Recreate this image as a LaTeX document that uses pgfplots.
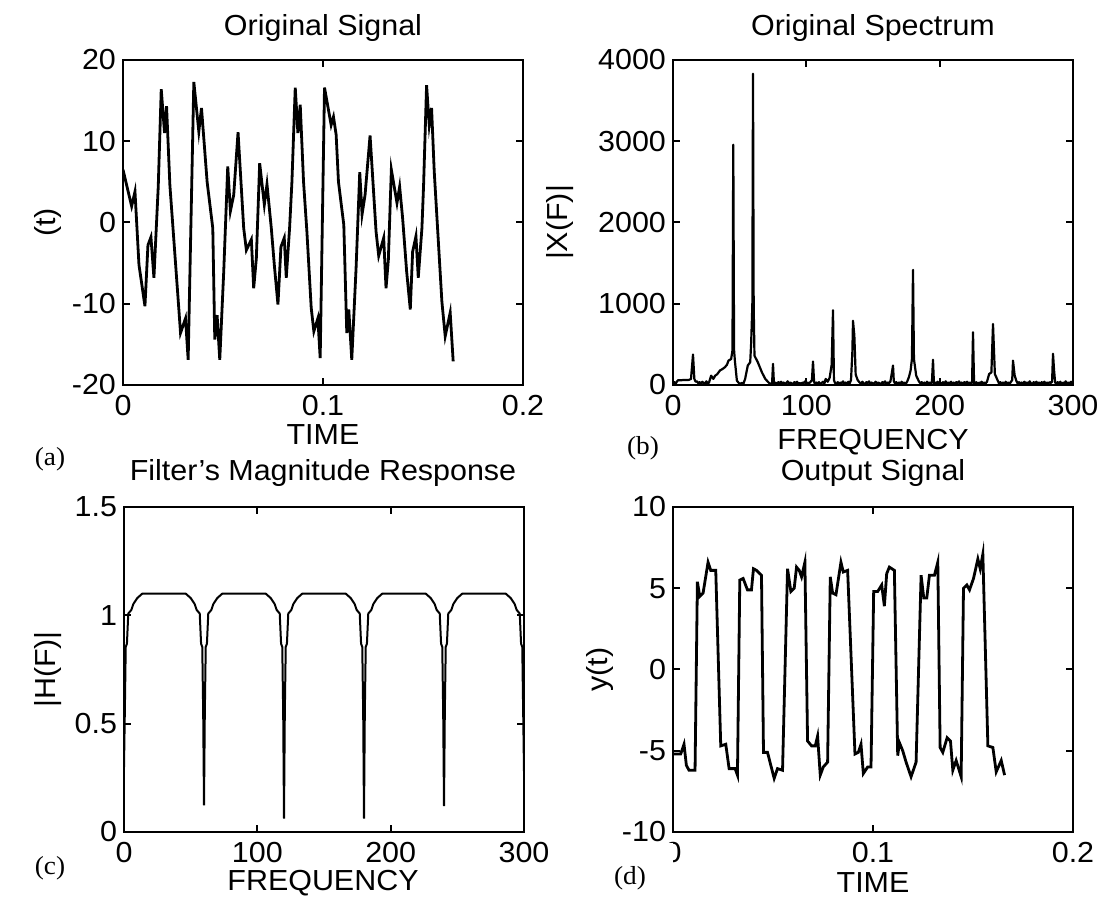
\documentclass[border=0pt]{standalone}
\usepackage{pgfplots}
\pgfplotsset{compat=1.18}
\usepackage{fontspec}
\setmainfont{Liberation Sans}[FakeStretch=1.05]
\newfontfamily\timesf{Liberation Serif}[FakeStretch=1.05]
\newcommand{\lf}{\fontsize{14.5}{14.5}\selectfont}
\newcommand{\pfont}{\timesf\fontsize{13}{13}\selectfont}
\pgfplotsset{
  panel/.style={
    scale only axis, width=200pt, height=162.5pt, anchor=south west,
    axis line style={line width=1.3pt},
    every tick/.style={black, line width=1pt},
    major tick length=3.5pt,
    tick align=inside,
    ticklabel style={font=\lf},
    xticklabel style={yshift=-1.5pt},
    /pgf/number format/assume math mode=true,
    scaled ticks=false,
  },
}
\begin{document}
\begin{tikzpicture}
\path[use as bounding box] (0,0) rectangle (550.5pt,448.5pt);
% ---------- (a) ----------
\begin{axis}[panel, at={(61.5pt,256pt)},
  xmin=0, xmax=0.2, ymin=-20, ymax=20,
  xtick={0,0.1,0.2}, xticklabels={0,0.1,0.2},
  ytick={-20,-10,0,10,20}, yticklabels={-20,-10,0,10,20}]
\addplot[black, line width=1.4pt] coordinates {
(0,6.5)(0.00432,2.0)(0.00599,3.8)(0.00798,-5.2)(0.01097,-10.3)(0.01247,-2.8)(0.01397,-1.8)(0.01546,-6.8)(0.01762,4.4)(0.01912,16.4)(0.02078,11.0)(0.02178,14.3)(0.02344,4.6)(0.02793,-10.7)(0.02876,-13.6)(0.03126,-11.8)(0.03258,-16.9)(0.03541,17.3)(0.03791,11.2)(0.03924,14.1)(0.04206,5.0)(0.04489,-0.7)(0.04589,-14.4)(0.04705,-11.4)(0.04838,-16.9)(0.05037,-6.0)(0.05237,6.9)(0.05370,1.4)(0.05536,3.4)(0.05752,11.1)(0.06035,-0.7)(0.06168,-3.4)(0.06417,-2.1)(0.06534,-8.1)(0.06667,-4.4)(0.06833,7.3)(0.07066,2.2)(0.07199,4.7)(0.07415,-0.7)(0.07565,-5.2)(0.07747,-10.1)(0.07897,-3.0)(0.08063,-1.9)(0.08163,-6.8)(0.08329,-0.7)(0.08446,5.0)(0.08612,16.6)(0.08745,11.0)(0.08861,14.5)(0.09027,5.0)(0.09194,-1.1)(0.09410,-10.5)(0.09543,-13.4)(0.09743,-11.8)(0.09859,-16.7)(0.10075,16.6)(0.10407,12.0)(0.10524,13.0)(0.10657,10.8)(0.10773,5.0)(0.11040,-0.3)(0.11189,-13.6)(0.11289,-10.7)(0.11438,-16.9)(0.11654,-5.6)(0.11837,6.2)(0.11953,1.0)(0.12103,3.4)(0.12353,10.7)(0.12652,-1.1)(0.12785,-4.1)(0.13034,-1.9)(0.13151,-8.1)(0.13267,-4.6)(0.13417,6.5)(0.13699,2.4)(0.13832,4.4)(0.13982,0.5)(0.14181,-6.0)(0.14364,-10.7)(0.14481,-3.6)(0.14647,-1.7)(0.14763,-6.8)(0.14946,-0.7)(0.15029,4.6)(0.15179,16.9)(0.15312,12.0)(0.15428,14.1)(0.15561,6.3)(0.15943,-9.7)(0.16110,-14.0)(0.16359,-11.1)(0.16509,-17.1)
};
\end{axis}
% ---------- (b) ----------
\begin{axis}[panel, at={(336.5pt,256pt)},
  xmin=0, xmax=300, ymin=0, ymax=4000,
  xtick={0,100,200,300}, xticklabels={0,100,200,300},
  ytick={0,1000,2000,3000,4000}, yticklabels={0,1000,2000,3000,4000}]
\addplot[black, line width=1.1pt, line join=round] coordinates {
(0,20)(1,35)(2,15)(3,45)(4,60)(6,58)(8,62)(10,60)(12,63)(13.5,75)(15,375)(16,75)(17,40)(18,45)(19,20)(20,35)(21,10)(22,40)(23,25)(24,15)(25,45)(26,20)(27,30)(28.6,115)(30.3,75)(31.6,115)(33,130)(35.3,180)(37,195)(39,220)(40.5,250)(41.6,300)(43.6,320)(44.6,425)(45.2,2957)(45.8,430)(46.4,300)(47.9,55)(49,30)(50.4,12)(51.5,25)(52.9,20)(54.1,75)(56.1,240)(57.9,280)(58.6,510)(59.5,980)(60,3830)(60.5,980)(61.1,360)(63.6,280)(66.7,155)(69.2,75)(71.7,30)(73,15)(74.3,20)(75,260)(75.7,15)(77,30)(78,10)(79,35)(80,20)(81,40)(82,15)(83,30)(84,10)(85,25)(86,45)(87,15)(88,30)(89,20)(90,10)(91,35)(92,20)(93,40)(94,15)(95,25)(96,10)(97,30)(98,20)(99,45)(100,15)(101,30)(102,20)(103,35)(104.2,60)(105,290)(105.8,40)(106.5,10)(107.5,30)(108.5,15)(109.5,35)(110.5,10)(111.5,25)(112.5,40)(113.5,15)(114.5,75)(116,40)(117.5,90)(119,250)(120,920)(120.7,60)(121.5,25)(122.5,10)(123.5,35)(124.5,15)(125.5,30)(126.5,20)(127.5,45)(128.5,15)(129.5,30)(130.5,10)(131.5,40)(132.5,20)(133.5,60)(134.5,400)(135,790)(136,610)(137,130)(138.5,60)(140,30)(141,15)(142,40)(143,20)(144,10)(145,35)(146,20)(147,45)(148,15)(149,30)(150,10)(151,25)(152,40)(153,15)(154,30)(155,20)(156,10)(157,35)(158,20)(159,45)(160,15)(161,30)(162,25)(163,40)(163.8,115)(165,240)(165.6,50)(166.5,20)(167.5,35)(168.5,10)(169.5,30)(170.5,15)(171.5,40)(172.5,20)(173.5,30)(174.5,10)(175.7,45)(177,100)(178.2,180)(179.2,320)(180,1417)(180.7,320)(182.4,115)(184.4,45)(185.5,20)(186.5,35)(187.5,15)(188.5,30)(189.5,10)(190.5,40)(191.5,20)(192.5,30)(193.5,15)(194.2,40)(195,310)(195.7,15)(196.5,30)(197.5,20)(198.5,40)(199.5,15)(200.5,30)(201.5,10)(202.5,35)(203.5,20)(204.5,45)(205.5,15)(206.5,30)(207.5,20)(208.5,40)(209.5,10)(210.5,30)(211.5,15)(212.5,35)(213.5,20)(214.5,45)(215.5,15)(216.5,30)(217.5,10)(218.5,35)(219.5,20)(220.5,40)(221.5,15)(222.5,30)(223.5,20)(224.3,30)(225,650)(225.8,20)(226.7,15)(227.5,35)(228.5,10)(229.5,30)(230.5,20)(231.5,40)(232.5,15)(233.5,30)(234.5,20)(235.5,40)(237.1,135)(238.8,155)(240,750)(241.4,135)(243.5,55)(244.5,20)(245.5,35)(246.5,15)(247.5,30)(248.5,10)(249.5,40)(250.5,20)(251.5,30)(252.5,15)(253.5,40)(254.4,60)(255,300)(256.2,120)(257.5,50)(258.5,20)(259.5,35)(260.5,15)(261.5,30)(262.5,10)(263.5,40)(264.5,20)(265.5,30)(266.5,15)(267.5,45)(268.5,20)(269.5,10)(270.5,35)(271.5,20)(272.5,40)(273.5,15)(274.5,30)(275.5,10)(276.5,35)(277.5,20)(278.5,40)(279.5,15)(280.5,30)(281.5,20)(282.5,35)(283.5,25)(284.3,40)(285,385)(285.8,180)(286.6,30)(287.5,15)(288.5,35)(289.5,20)(290.5,40)(291.5,10)(292.5,30)(293.5,20)(294.5,45)(295.5,15)(296.5,30)(297.5,20)(298.5,40)(299.5,15)(300,30)
};
\end{axis}
% ---------- (c) ----------
\begin{axis}[panel, at={(62pt,32.5pt)},
  xmin=0, xmax=300, ymin=0, ymax=1.5,
  xtick={0,100,200,300}, xticklabels={0,100,200,300},
  ytick={0,0.5,1,1.5}, yticklabels={0,0.5,1,1.5}]
\addplot[black, line width=1.0pt] coordinates {
(0,0.30)(0.6,0.546)(1.3,0.854)(2.2,0.869)(3.2,1.008)(5.5,1.025)(7,1.052)(10,1.080)(13.7,1.100)
(46.3,1.100)(50,1.080)(53,1.052)(54.5,1.025)(56.8,1.008)(57.8,0.869)(58.7,0.854)(59.4,0.546)(60,0.123)(60.6,0.546)(61.3,0.854)(62.2,0.869)(63.2,1.008)(65.5,1.025)(67,1.052)(70,1.080)(73.7,1.100)
(106.3,1.100)(110,1.080)(113,1.052)(114.5,1.025)(116.8,1.008)(117.8,0.869)(118.7,0.854)(119.4,0.546)(120,0.062)(120.6,0.546)(121.3,0.854)(122.2,0.869)(123.2,1.008)(125.5,1.025)(127,1.052)(130,1.080)(133.7,1.100)
(166.3,1.100)(170,1.080)(173,1.052)(174.5,1.025)(176.8,1.008)(177.8,0.869)(178.7,0.854)(179.4,0.546)(180,0.062)(180.6,0.546)(181.3,0.854)(182.2,0.869)(183.2,1.008)(185.5,1.025)(187,1.052)(190,1.080)(193.7,1.100)
(226.3,1.100)(230,1.080)(233,1.052)(234.5,1.025)(236.8,1.008)(237.8,0.869)(238.7,0.854)(239.4,0.546)(240,0.120)(240.6,0.546)(241.3,0.854)(242.2,0.869)(243.2,1.008)(245.5,1.025)(247,1.052)(250,1.080)(253.7,1.100)
(286.3,1.100)(290,1.080)(293,1.052)(294.5,1.025)(296.8,1.008)(297.8,0.869)(298.7,0.854)(299.4,0.546)(300,0.28)
};
\end{axis}
% ---------- (d) ----------
\begin{axis}[panel, at={(336.5pt,32.5pt)},
  xmin=0, xmax=0.2, ymin=-10, ymax=10,
  xtick={0,0.1,0.2}, xticklabels={0,0.1,0.2},
  ytick={-10,-5,0,5,10}, yticklabels={-10,-5,0,5,10}]
\addplot[black, line width=1.4pt] coordinates {
(0,-5.2)(0.00384,-5.2)(0.00551,-4.6)(0.00668,-5.9)(0.00801,-6.2)(0.01102,-6.2)(0.01219,5.4)(0.01336,4.5)(0.01503,4.7)(0.01753,6.6)(0.01886,6.1)(0.02137,6.1)(0.02387,-4.7)(0.02638,-4.6)(0.02805,-6.1)(0.03105,-6.1)(0.03222,-6.5)(0.03339,5.5)(0.03506,5.6)(0.03723,4.9)(0.03923,4.9)(0.04023,6.2)(0.04174,6.1)(0.04424,5.8)(0.04524,-5.1)(0.04725,-5.1)(0.04891,-5.9)(0.05058,-6.7)(0.05225,-6.1)(0.05476,-6.2)(0.05726,6.2)(0.05893,4.8)(0.06060,5.0)(0.06177,6.3)(0.06311,6.1)(0.06427,5.7)(0.06594,6.6)(0.06728,-4.4)(0.06928,-4.7)(0.07112,-4.7)(0.07229,-4.1)(0.07362,-6.5)(0.07513,-6.0)(0.07730,-5.7)(0.07863,5.7)(0.07980,4.7)(0.08147,4.6)(0.08397,6.6)(0.08514,6.0)(0.08731,6.1)(0.09098,-5.2)(0.09265,-5.1)(0.09399,-4.6)(0.09516,-6.4)(0.09733,-6.0)(0.09900,-6.0)(0.10033,4.8)(0.10234,4.8)(0.10434,5.2)(0.10568,3.9)(0.10684,5.9)(0.10818,6.3)(0.11068,6.1)(0.11235,-5.3)(0.11319,-4.5)(0.11486,-5.0)(0.11653,-5.7)(0.11903,-6.6)(0.12154,-5.7)(0.12404,5.8)(0.12538,4.4)(0.12688,4.4)(0.12821,5.8)(0.13072,5.8)(0.13239,6.6)(0.13356,-4.8)(0.13489,-5.1)(0.13706,-4.2)(0.13873,-4.4)(0.13990,-6.2)(0.14157,-5.6)(0.14407,-6.6)(0.14524,5.0)(0.14691,5.2)(0.14825,4.9)(0.15025,5.6)(0.15242,6.8)(0.15359,6.2)(0.15492,7.1)(0.15743,-4.7)(0.15993,-4.8)(0.16160,-6.3)(0.16411,-5.6)(0.16578,-6.5)
};
\end{axis}
% ---------- texts ----------
\node[font=\lf, anchor=base] at (161.5pt,430.5pt) {Original Signal};
\node[font=\lf, anchor=base] at (436.5pt,430.5pt) {Original Spectrum};
\node[font=\lf, anchor=base] at (161.5pt,208pt) {Filter's Magnitude Response};
\node[font=\lf, anchor=base] at (436.5pt,208pt) {Output Signal};
\node[font=\lf, anchor=base] at (161.5pt,226pt) {TIME};
\node[font=\lf, anchor=base] at (436.5pt,223.5pt) {FREQUENCY};
\node[font=\lf, anchor=base] at (161.5pt,3pt) {FREQUENCY};
\node[font=\lf, anchor=base] at (436.5pt,2pt) {TIME};
\node[font=\lf, rotate=90, anchor=center] at (24pt,337.25pt) {(t)};
\node[font=\lf, rotate=90, anchor=center] at (280pt,337.25pt) {|X(F)|};
\node[font=\lf, rotate=90, anchor=center] at (24pt,113.75pt) {|H(F)|};
\node[font=\lf, rotate=90, anchor=center] at (300pt,113.75pt) {y(t)};
% white label boxes (as in the reference they hide parts of two tick labels)
\fill[white] (305pt,213pt) rectangle (350pt,240pt);
\fill[white] (298pt,0pt) rectangle (336.5pt,27pt);
\node[font=\pfont, anchor=base] at (25pt,215.5pt) {(a)};
\node[font=\pfont, anchor=base] at (321.5pt,221pt) {(b)};
\node[font=\pfont, anchor=base] at (25pt,11pt) {(c)};
\node[font=\pfont, anchor=base] at (315pt,6pt) {(d)};
\end{tikzpicture}
\end{document}
